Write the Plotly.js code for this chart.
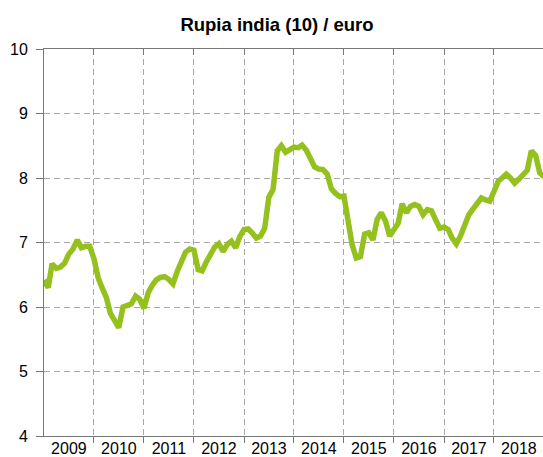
<!DOCTYPE html>
<html>
<head>
<meta charset="utf-8">
<script src="https://cdn.plot.ly/plotly-3.0.1.min.js"></script>
<style>html,body{margin:0;padding:0;background:#fff;overflow:hidden}#chart{width:543px;height:457px}</style>
</head>
<body>
<div id="chart"></div>
<script>
// Monthly values, January 2009 onwards
var startYear = 2009;
var values = [
  6.42, 6.30, 6.67, 6.60, 6.62, 6.68, 6.82, 6.90, 7.04, 6.92, 6.94, 6.94,
  6.75, 6.45, 6.30, 6.15, 5.90, 5.78, 5.68, 6.00, 6.02, 6.05, 6.17, 6.12,
  5.98, 6.22, 6.33, 6.42, 6.46, 6.47, 6.43, 6.36, 6.55, 6.70, 6.85, 6.90,
  6.88, 6.58, 6.56, 6.70, 6.82, 6.93, 6.98, 6.86, 6.97, 7.02, 6.92, 7.09,
  7.20, 7.21, 7.15, 7.07, 7.10, 7.22, 7.70, 7.82, 8.42, 8.50, 8.40, 8.44,
  8.48, 8.47, 8.51, 8.43, 8.30, 8.17, 8.14, 8.13, 8.06, 7.83, 7.76, 7.71,
  7.72, 7.25, 6.97, 6.76, 6.78, 7.13, 7.15, 7.04, 7.36, 7.46, 7.33, 7.10,
  7.22, 7.30, 7.60, 7.46, 7.56, 7.59, 7.56, 7.43, 7.51, 7.49, 7.35, 7.22,
  7.24, 7.20, 7.07, 6.98, 7.10, 7.28, 7.43, 7.52, 7.62, 7.69, 7.66, 7.64,
  7.79, 7.95, 8.00, 8.06, 8.00, 7.92, 7.98, 8.06, 8.12, 8.42, 8.35, 8.08,
  8.02
];
var yearLabels = ['2009','2010','2011','2012','2013','2014','2015','2016','2017','2018'];
var yTicks = [4, 5, 6, 7, 8, 9, 10];
var titleText = 'Rupia india (10) / euro';

function pad(n){ return (n < 10 ? '0' : '') + n; }
var dates = values.map(function(v, i){
  var y = startYear + Math.floor(i / 12);
  var m = (i % 12) + 1;
  return y + '-' + pad(m) + '-01';
});
var boundaries = yearLabels.map(function(y){ return (parseInt(y) + 1) + '-01-01'; });
var labelPos = yearLabels.map(function(y){ return y + '-07-02'; });

var xRange = [startYear + '-01-01', '2018-12-25'];
var font = 'Liberation Sans, Arial, Helvetica, sans-serif';

var traces = [
  {x: dates, y: values, xaxis: 'x', yaxis: 'y', mode: 'lines',
   line: {color: '#95c11f', width: 5.5, shape: 'linear'}, hoverinfo: 'skip', showlegend: false},
  {x: dates, y: values, xaxis: 'x2', yaxis: 'y', mode: 'lines', opacity: 0,
   line: {width: 0}, hoverinfo: 'skip', showlegend: false},
  {x: dates, y: values, xaxis: 'x3', yaxis: 'y', mode: 'lines', opacity: 0,
   line: {width: 0}, hoverinfo: 'skip', showlegend: false}
];

var layout = {
  width: 543, height: 457,
  margin: {l: 44, r: 0, t: 49, b: 21},
  paper_bgcolor: '#fff', plot_bgcolor: '#fff',
  showlegend: false,
  title: {text: '<b>' + titleText + '</b>', x: 277/543, xanchor: 'center', xref: 'container',
          y: 1 - 25/457, yanchor: 'middle', yref: 'container',
          font: {family: font, size: 18.5, color: '#000'}},
  xaxis: {type: 'date', range: xRange, tickmode: 'array', tickvals: boundaries,
          showticklabels: false, ticks: 'outside', ticklen: 6, tickcolor: '#777', tickwidth: 1,
          showgrid: true, gridcolor: '#a8a8a8', gridwidth: 1, griddash: '6px,4px',
          showline: true, linecolor: '#777', linewidth: 1, zeroline: false, fixedrange: true},
  xaxis2: {type: 'date', overlaying: 'x', side: 'bottom', anchor: 'y', range: xRange,
           tickmode: 'array', tickvals: labelPos, ticktext: yearLabels,
           ticks: '', showgrid: false, showline: false, zeroline: false,
           ticklabelstandoff: 1,
           tickfont: {family: font, size: 16, color: '#000'}, fixedrange: true},
  xaxis3: {type: 'date', overlaying: 'x', side: 'top', anchor: 'y', range: xRange,
           tickmode: 'array', tickvals: boundaries, showticklabels: false,
           ticks: 'inside', ticklen: 6, tickcolor: '#777', tickwidth: 1,
           showgrid: false, showline: true, linecolor: '#777', linewidth: 1, zeroline: false, fixedrange: true},
  yaxis: {range: [4, 10], tickmode: 'array', tickvals: yTicks, ticks: 'outside', ticklen: 7,
          tickcolor: '#777', tickwidth: 1, showline: true, linecolor: '#777', linewidth: 1,
          showgrid: true, gridcolor: '#a8a8a8', gridwidth: 1, griddash: '6px,4px',
          zeroline: false, ticklabelstandoff: 5,
          tickfont: {family: font, size: 16, color: '#000'}, fixedrange: true}
};

Plotly.newPlot('chart', traces, layout, {displayModeBar: false, staticPlot: true});
</script>
</body>
</html>
